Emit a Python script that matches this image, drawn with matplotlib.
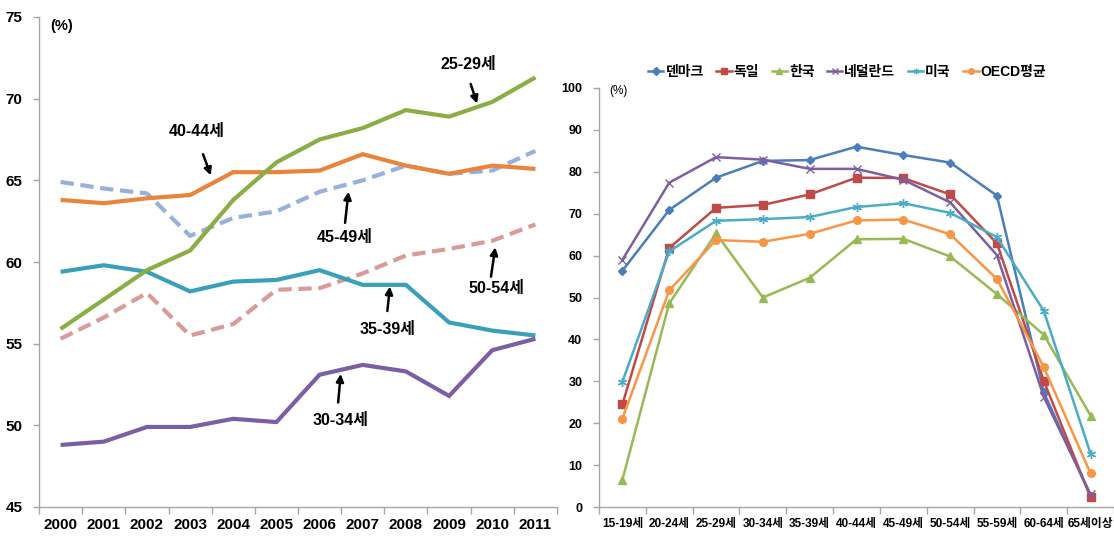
import matplotlib
matplotlib.use("Agg")
import matplotlib.pyplot as plt
from matplotlib import font_manager as fm
import numpy as np


def has_font(name):
    try:
        fm.findfont(fm.FontProperties(family=name), fallback_to_default=False)
        return True
    except Exception:
        return False


LATIN = "Liberation Sans Narrow" if has_font("Liberation Sans Narrow") else "Liberation Sans"
FAM = [LATIN, "Noto Sans CJK KR", "DejaVu Sans"]
plt.rcParams["font.family"] = FAM

# ---- left panel: participation rate by age group, 2000-2011 ----
years = ["2000", "2001", "2002", "2003", "2004", "2005",
         "2006", "2007", "2008", "2009", "2010", "2011"]
age_25_29 = [55.9, 57.7, 59.5, 60.7, 63.8, 66.1, 67.5, 68.2, 69.3, 68.9, 69.8, 71.3]
age_30_34 = [48.8, 49.0, 49.9, 49.9, 50.4, 50.2, 53.1, 53.7, 53.3, 51.8, 54.6, 55.3]
age_35_39 = [59.4, 59.8, 59.4, 58.2, 58.8, 58.9, 59.5, 58.6, 58.6, 56.3, 55.8, 55.5]
age_40_44 = [63.8, 63.6, 63.9, 64.1, 65.5, 65.5, 65.6, 66.6, 65.9, 65.4, 65.9, 65.7]
age_45_49 = [64.9, 64.5, 64.2, 61.6, 62.7, 63.1, 64.3, 65.0, 65.9, 65.4, 65.6, 66.8]
age_50_54 = [55.3, 56.6, 58.1, 55.5, 56.2, 58.3, 58.4, 59.3, 60.4, 60.8, 61.3, 62.3]

# ---- right panel: participation rate by age group, selected countries ----
age_groups = ["15-19세", "20-24세", "25-29세", "30-34세", "35-39세", "40-44세",
              "45-49세", "50-54세", "55-59세", "60-64세", "65세이상"]
denmark = [56.4, 70.9, 78.6, 82.6, 82.8, 86.0, 84.0, 82.2, 74.3, 27.4, 2.6]
germany = [24.5, 61.8, 71.4, 72.1, 74.6, 78.6, 78.5, 74.6, 62.9, 30.1, 2.3]
korea = [6.5, 48.6, 65.3, 50.0, 54.7, 63.9, 64.0, 59.8, 50.8, 41.1, 21.8]
netherlands = [59.0, 77.4, 83.5, 82.9, 80.7, 80.7, 78.1, 72.7, 60.1, 26.3, 3.0]
usa = [29.9, 61.0, 68.3, 68.7, 69.2, 71.6, 72.5, 70.2, 64.4, 46.8, 12.7]
oecd = [21.1, 51.7, 63.7, 63.3, 65.2, 68.4, 68.6, 65.1, 54.4, 33.4, 8.0]
countries = ["덴마크", "독일", "한국", "네덜란드", "미국", "OECD평균"]

AXIS_GREY = "#a6a6a6"

fig = plt.figure(figsize=(11.14, 5.42), dpi=100)
fig.patch.set_facecolor("white")


def style_axes(ax):
    for s in ("top", "right"):
        ax.spines[s].set_visible(False)
    for s in ("left", "bottom"):
        ax.spines[s].set_color(AXIS_GREY)
        ax.spines[s].set_linewidth(1.0)
    ax.tick_params(axis="y", which="major", length=4, color=AXIS_GREY, width=1.0)
    ax.tick_params(axis="x", which="major", length=0)
    ax.tick_params(axis="x", which="minor", length=5, color=AXIS_GREY, width=1.0)


# ================= left =================
axL = fig.add_axes([39 / 1114, 35 / 542, 518 / 1114, 490 / 542])
style_axes(axL)
xl = np.arange(len(years))

dash = (0, (3.2, 1.6))
left_series = [
    (age_50_54, "#d99a98", dash),
    (age_45_49, "#98b0dc", dash),
    (age_35_39, "#3a9fb8", "-"),
    (age_30_34, "#7b5ea4", "-"),
    (age_40_44, "#e8843c", "-"),
    (age_25_29, "#8aad44", "-"),
]
for vals, col, ls in left_series:
    axL.plot(xl, vals, color=col, lw=3.0, ls=ls, solid_capstyle="butt",
             dash_capstyle="butt", solid_joinstyle="miter")

axL.set_xlim(-0.5, len(years) - 0.5)
axL.set_ylim(45, 75)
axL.set_yticks(np.arange(45, 76, 5))
axL.set_xticks(xl)
axL.set_xticklabels(years)
axL.set_xticks(np.arange(-0.5, len(years), 1.0), minor=True)
for lab in axL.get_xticklabels():
    lab.set_fontsize(11)
    lab.set_fontweight("bold")
for lab in axL.get_yticklabels():
    lab.set_fontsize(11)
    lab.set_fontweight("bold")
axL.tick_params(axis="x", pad=8)
axL.tick_params(axis="y", pad=8)
axL.text(0.044, 0.982, "(%)", transform=axL.transAxes, ha="center", va="center",
         fontsize=10.5, fontweight="bold")

# age-group callouts: (label, text position, arrow tail, arrow head)
callouts = [
    ("25-29세", (9.45, 72.1), (9.50, 70.9), (9.65, 69.7)),
    ("40-44세", (3.15, 68.0), (3.30, 66.6), (3.48, 65.3)),
    ("45-49세", (6.58, 61.5), (6.59, 62.4), (6.67, 64.3)),
    ("50-54세", (10.10, 58.4), (9.97, 59.1), (10.07, 60.9)),
    ("35-39세", (7.57, 55.85), (7.57, 57.0), (7.63, 58.5)),
    ("30-34세", (6.49, 50.3), (6.43, 51.4), (6.49, 53.15)),
]
for label, tpos, tail, head in callouts:
    axL.annotate("", xy=head, xytext=tail,
                 arrowprops=dict(arrowstyle="-|>", color="black", lw=1.8,
                                 mutation_scale=11, shrinkA=0, shrinkB=0))
    axL.text(tpos[0], tpos[1], label, ha="center", va="center",
             fontsize=11.5, fontweight="bold", color="black")

# ================= right =================
axR = fig.add_axes([599 / 1114, 35 / 542, 515 / 1114, 419 / 542])
style_axes(axR)
xr = np.arange(len(age_groups))

right_series = [
    (denmark, "#4a7ebb", "D", 4.0),
    (germany, "#be4b48", "s", 5.5),
    (korea, "#98b954", "^", 5.5),
    (netherlands, "#7d5fa0", "x", 5.5),
    (usa, "#4bacc6", (6, 2, 0), 6.5),
    (oecd, "#f79646", "o", 5.5),
]
for (vals, col, mk, ms), name in zip(right_series, countries):
    axR.plot(xr, vals, color=col, lw=1.8, marker=mk, markersize=ms,
             markerfacecolor=col, markeredgecolor=col, markeredgewidth=1.0,
             label=name)

axR.set_xlim(-0.5, len(age_groups) - 0.5)
axR.set_ylim(0, 100)
axR.set_yticks(np.arange(0, 101, 10))
axR.set_xticks(xr)
axR.set_xticklabels(age_groups)
axR.set_xticks(np.arange(-0.5, len(age_groups), 1.0), minor=True)
for lab in axR.get_xticklabels():
    lab.set_fontsize(8.5)
    lab.set_fontweight("bold")
for lab in axR.get_yticklabels():
    lab.set_fontsize(9)
    lab.set_fontweight("bold")
axR.tick_params(axis="x", pad=8)
axR.tick_params(axis="y", pad=8)
axR.text(0.037, 0.993, "(%)", transform=axR.transAxes, ha="center", va="center",
         fontsize=8.5)

leg = axR.legend(loc="center", bbox_to_anchor=(0.482, 1.038), ncol=6, frameon=False,
                 handlelength=1.1, handletextpad=0.15, columnspacing=0.9,
                 borderaxespad=0, prop=dict(family=FAM, size=10, weight="bold"))
for h in leg.legend_handles:
    h.set_markersize(4)

fig.savefig("out.png", dpi=100, facecolor="white")
